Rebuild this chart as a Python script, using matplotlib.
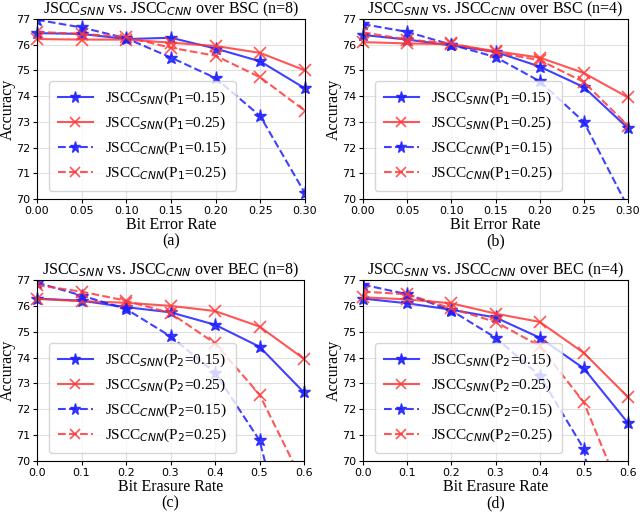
import matplotlib
matplotlib.use("Agg")
import matplotlib.pyplot as plt

# ---- data ----
ber = [0.00, 0.05, 0.10, 0.15, 0.20, 0.25, 0.30]
ber_ticks = ["0.00", "0.05", "0.10", "0.15", "0.20", "0.25", "0.30"]
bec = [0.0, 0.1, 0.2, 0.3, 0.4, 0.5, 0.6]
bec_ticks = ["0.0", "0.1", "0.2", "0.3", "0.4", "0.5", "0.6"]

a_snn_015 = [76.45, 76.42, 76.22, 76.27, 75.85, 75.35, 74.30]
a_snn_025 = [76.22, 76.20, 76.20, 76.08, 75.95, 75.68, 75.00]
a_cnn_015 = [76.97, 76.67, 76.25, 75.50, 74.70, 73.22, 70.22]
a_cnn_025 = [76.50, 76.42, 76.30, 75.88, 75.57, 74.73, 73.43]

b_snn_015 = [76.38, 76.20, 75.97, 75.72, 75.15, 74.35, 72.75]
b_snn_025 = [76.10, 76.05, 76.02, 75.75, 75.50, 74.90, 73.95]
b_cnn_015 = [76.80, 76.50, 76.00, 75.52, 74.58, 73.00, 69.67]
b_cnn_025 = [76.48, 76.20, 76.05, 75.70, 75.40, 74.55, 72.85]

c_snn_015 = [76.28, 76.20, 75.95, 75.75, 75.27, 74.42, 72.65]
c_snn_025 = [76.27, 76.18, 76.12, 76.00, 75.80, 75.20, 73.95]
c_cnn_015 = [76.90, 76.40, 75.88, 74.82, 73.42, 70.80, 64.10]
c_cnn_025 = [76.80, 76.55, 76.20, 75.72, 74.55, 72.57, 69.10]

d_snn_015 = [76.28, 76.10, 75.85, 75.55, 74.77, 73.58, 71.47]
d_snn_025 = [76.33, 76.25, 76.10, 75.70, 75.38, 74.18, 72.47]
d_cnn_015 = [76.82, 76.45, 75.82, 74.77, 73.30, 70.47, 61.00]
d_cnn_025 = [76.55, 76.45, 75.90, 75.38, 74.45, 72.27, 68.10]

titles = [r"JSCC$_{SNN}$ vs. JSCC$_{CNN}$ over BSC (n=8)",
          r"JSCC$_{SNN}$ vs. JSCC$_{CNN}$ over BSC (n=4)",
          r"JSCC$_{SNN}$ vs. JSCC$_{CNN}$ over BEC (n=8)",
          r"JSCC$_{SNN}$ vs. JSCC$_{CNN}$ over BEC (n=4)"]
xlabels = ["Bit Error Rate", "Bit Error Rate", "Bit Erasure Rate", "Bit Erasure Rate"]
captions = ["(a)", "(b)", "(c)", "(d)"]
yticks = [70, 71, 72, 73, 74, 75, 76, 77]

panels = [
    (ber, ber_ticks, "1", a_snn_015, a_snn_025, a_cnn_015, a_cnn_025),
    (ber, ber_ticks, "1", b_snn_015, b_snn_025, b_cnn_015, b_cnn_025),
    (bec, bec_ticks, "2", c_snn_015, c_snn_025, c_cnn_015, c_cnn_025),
    (bec, bec_ticks, "2", d_snn_015, d_snn_025, d_cnn_015, d_cnn_025),
]

BLUE = (0.12, 0.12, 1.0)
RED = (1.0, 0.22, 0.22)
SERIF = "Liberation Serif"

fig = plt.figure(figsize=(6.4, 5.16), dpi=100)
W, H = 640, 516
boxes = [(37, 19, 305, 199), (363, 19, 628, 199), (37, 280, 304, 461), (363, 280, 628, 461)]

for i, (box, panel) in enumerate(zip(boxes, panels)):
    x0, y0, x1, y1 = box
    ax = fig.add_axes([x0 / W, 1 - y1 / H, (x1 - x0) / W, (y1 - y0) / H])
    xs, xt, p, s15, s25, c15, c25 = panel
    ax.plot(xs, s15, '-', color=BLUE, marker='*', ms=9.5, lw=1.5, alpha=0.85, clip_on=False,
            label=r"JSCC$_{SNN}$(P$_%s$=0.15)" % p)
    ax.plot(xs, s25, '-', color=RED, marker='x', ms=8, mew=1.2, lw=1.5, alpha=0.85, clip_on=False,
            label=r"JSCC$_{SNN}$(P$_%s$=0.25)" % p)
    ax.plot(xs, c15, '--', color=BLUE, marker='*', ms=9.5, lw=1.5, alpha=0.85,
            label=r"JSCC$_{CNN}$(P$_%s$=0.15)" % p)
    ax.plot(xs, c25, '--', color=RED, marker='x', ms=8, mew=1.2, lw=1.5, alpha=0.85,
            label=r"JSCC$_{CNN}$(P$_%s$=0.25)" % p)
    ax.set_xlim(xs[0], xs[-1])
    ax.set_ylim(70, 77)
    ax.set_xticks(xs)
    ax.set_xticklabels(xt)
    ax.set_yticks(yticks)
    ax.tick_params(labelsize=8, length=3, pad=2)
    ax.grid(True, color='#e0e0e0', lw=0.8)
    ax.set_axisbelow(True)
    ax.set_title(titles[i], fontsize=11.5, family=SERIF, pad=1)
    ax.set_ylabel("Accuracy", fontsize=11.5, family=SERIF, labelpad=0)
    ax.set_xlabel(xlabels[i] + "\n" + captions[i], fontsize=11.5, family=SERIF, labelpad=1,
                  linespacing=1.0)
    ax.legend(loc='lower left', bbox_to_anchor=(0.015, 0.0), prop={'family': SERIF, 'size': 11},
              handlelength=2.3, labelspacing=0.5, borderpad=0.6, markerscale=0.85,
              framealpha=0.8, edgecolor='#cccccc')

fig.savefig("out.png", dpi=100)
